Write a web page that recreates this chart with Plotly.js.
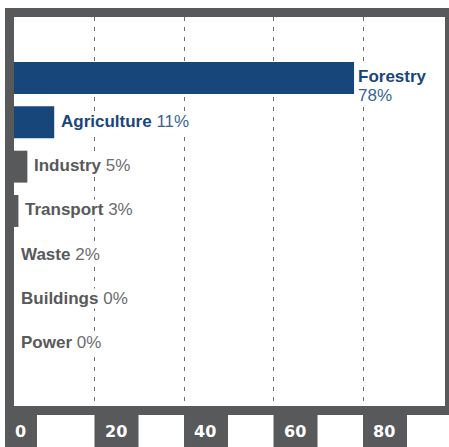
<!DOCTYPE html>
<html>
<head>
<meta charset="utf-8">
<script src="https://cdn.plot.ly/plotly-3.0.1.min.js"></script>
<style>
  html, body { margin: 0; padding: 0; background: #fff; }
  #chart { width: 449px; height: 447px; }
</style>
</head>
<body>
<div id="chart"></div>
<script>
// ---- data ----
const categories = ['Forestry', 'Agriculture', 'Industry', 'Transport', 'Waste', 'Buildings', 'Power'];
const shares = [78, 11, 5, 3, 2, 0, 0];
const highlighted = ['Forestry', 'Agriculture'];
const tickValues = [0, 20, 40, 60, 80];
const tickLabels = ['0', '20', '40', '60', '80'];

// ---- styling / geometry ----
const W = 449, H = 447;
const M = { l: 5, r: 4, t: 17, b: 41 };
const plotW = W - M.l - M.r;          // 440
const plotH = H - M.t - M.b;          // 389
const xMax = 98.32;                   // so that 20-unit grid spacing ~89.5px
const pxPerUnit = plotW / xMax;
const BLUE = '#17477a', GREY = '#58595b';
const BLUE_PCT = '#3a6393', GREY_PCT = '#6b6c6e';
const FRAME = '#58595b';

// pixel -> paper helpers
const px = p => (p - M.l) / plotW;
const py = p => (H - M.b - p) / plotH;

const colors = categories.map(c => highlighted.includes(c) ? BLUE : GREY);

const trace = {
  type: 'bar',
  orientation: 'h',
  y: categories,
  x: shares,
  marker: { color: colors, line: { width: 0 } },
  hoverinfo: 'none',
  showlegend: false
};

const frameInnerPx = 14; // inner edge of the left frame bar
const annotations = [];
categories.forEach((c, i) => {
  const v = shares[i];
  const hi = highlighted.includes(c);
  const barEndPx = M.l + v * pxPerUnit;
  const extra = Math.max(0, frameInnerPx - barEndPx);
  if (c === 'Forestry') {
    annotations.push({
      x: v, y: c, xref: 'x', yref: 'y', xanchor: 'left', yanchor: 'middle',
      xshift: 3 + extra, yshift: 1, showarrow: false, borderpad: 0, bgcolor: '#fff',
      text: '<b>' + c + '</b>',
      font: { family: 'Liberation Sans, Arial, sans-serif', size: 17, color: BLUE }
    });
    annotations.push({
      x: v, y: c, xref: 'x', yref: 'y', xanchor: 'left', yanchor: 'middle',
      xshift: 3 + extra, yshift: -18, showarrow: false, borderpad: 0, bgcolor: '#fff',
      text: v + '%',
      font: { family: 'Liberation Sans, Arial, sans-serif', size: 17, color: BLUE_PCT }
    });
  } else {
    annotations.push({
      x: v, y: c, xref: 'x', yref: 'y', xanchor: 'left', yanchor: 'middle',
      xshift: 6 + extra, yshift: 1, showarrow: false, borderpad: 0, bgcolor: '#fff',
      text: '<b>' + c + '</b> <span style="color:' + (hi ? BLUE_PCT : GREY_PCT) + '">' + v + '%</span>',
      font: { family: 'Liberation Sans, Arial, sans-serif', size: 17, color: hi ? BLUE : GREY }
    });
  }
});

// tick labels (white on dark boxes)
const shapes = [];
tickValues.forEach((v, i) => {
  const wPx = tickLabels[i].length > 1 ? 44 : 32;
  shapes.push({
    type: 'rect', xref: 'x', yref: 'paper',
    x0: v, x1: v + wPx / pxPerUnit, y0: py(447), y1: py(414),
    fillcolor: FRAME, line: { width: 0 }, layer: 'above'
  });
  annotations.push({
    x: v, y: py(431), xref: 'x', yref: 'paper', xanchor: 'left', yanchor: 'middle',
    xshift: 8, showarrow: false, text: '<b>' + tickLabels[i] + '</b>',
    font: { family: 'DejaVu Sans, sans-serif', size: 16, color: '#ffffff' }
  });
});

// frame
const frameRects = [
  [5, 449, 8, 17],     // top
  [5, 14, 8, 415],     // left
  [445, 449, 8, 415],  // right
  [5, 449, 406, 415]   // bottom band
];
frameRects.forEach(r => shapes.push({
  type: 'rect', xref: 'paper', yref: 'paper',
  x0: px(r[0]), x1: px(r[1]), y0: py(r[3]), y1: py(r[2]),
  fillcolor: FRAME, line: { width: 0 }, layer: 'above'
}));

const layout = {
  width: W, height: H,
  margin: M,
  paper_bgcolor: '#fff', plot_bgcolor: '#fff',
  bargap: 0.28,
  xaxis: {
    range: [0, xMax], fixedrange: true,
    tickvals: tickValues, showticklabels: false, ticks: '',
    showgrid: true, gridcolor: '#6d6e70', gridwidth: 1, griddash: '4px,6px',
    zeroline: false, showline: false
  },
  yaxis: {
    type: 'category', range: [7.4, -1.376], fixedrange: true,
    showticklabels: false, ticks: '', showgrid: false, zeroline: false, showline: false
  },
  shapes: shapes,
  annotations: annotations,
  showlegend: false
};

Plotly.newPlot('chart', [trace], layout, { displayModeBar: false, staticPlot: true });
</script>
</body>
</html>
